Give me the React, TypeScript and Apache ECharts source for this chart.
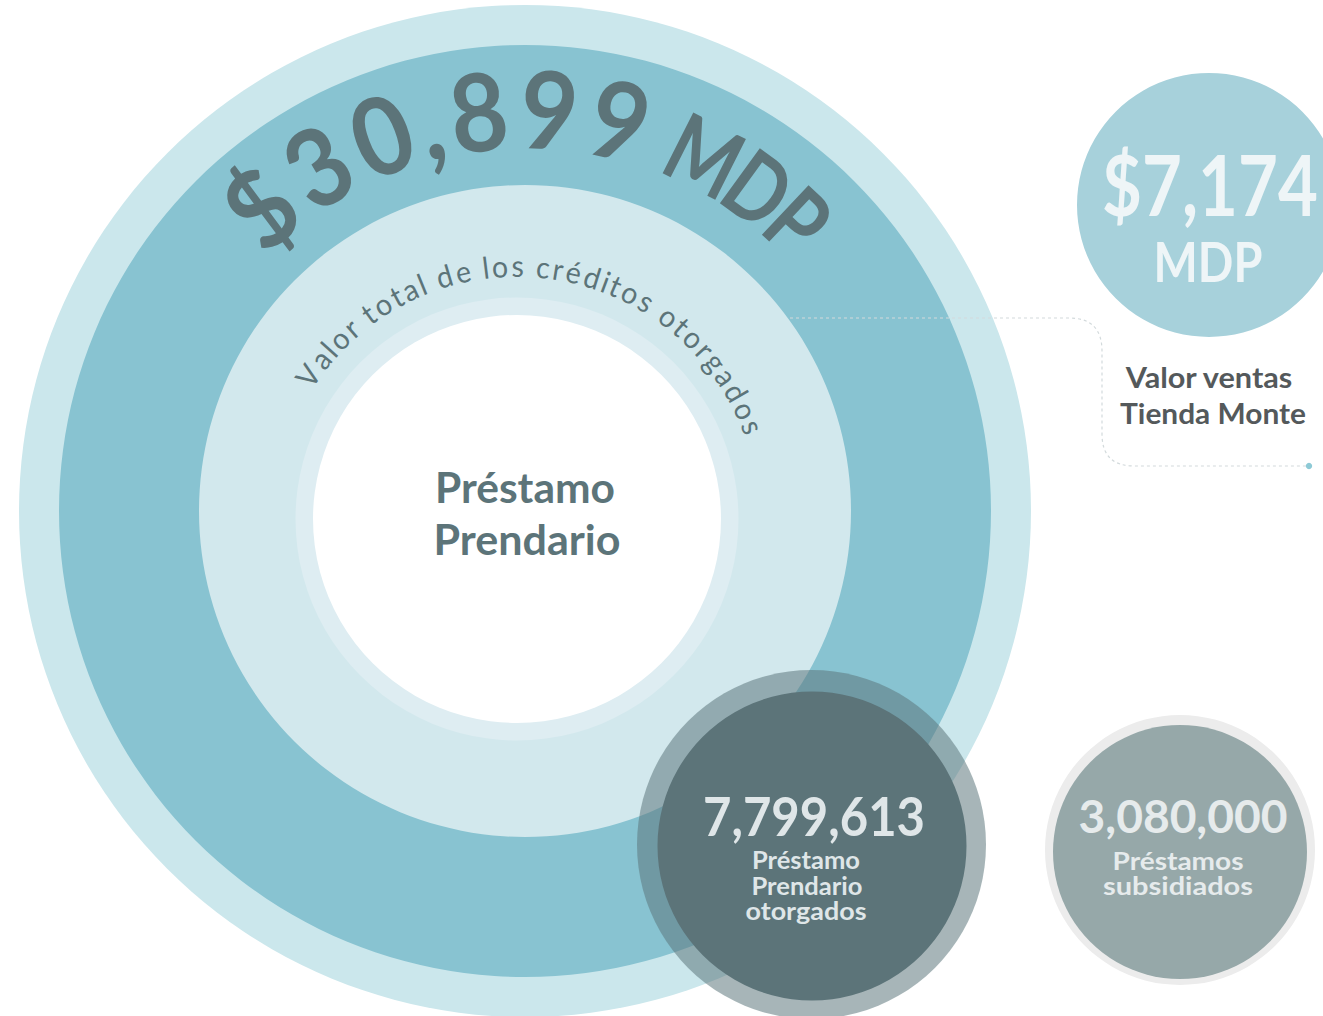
import React, { useEffect, useRef } from "react";
import * as echarts from "echarts";

// ---- data (texts / values) ----
const totalCreditValue = "$30,899";
const totalCreditUnit = "MDP";
const totalCreditLabel = "Valor total de los créditos otorgados";
const centerLabel = ["Préstamo", "Prendario"];
const storeSalesValue = ["$7,174", "MDP"];
const storeSalesLabel = ["Valor ventas", "Tienda Monte"];
const loansGrantedValue = "7,799,613";
const loansGrantedLabel = ["Préstamo", "Prendario", "otorgados"];
const subsidizedValue = "3,080,000";
const subsidizedLabel = ["Préstamos", "subsidiados"];

const FAMILY = "Lato, 'Noto Sans', sans-serif";
const DARK = "#5c7479";

let measureCtx: CanvasRenderingContext2D | null = null;
function measure(text: string, size: number, weight: string | number) {
  if (!measureCtx) measureCtx = document.createElement("canvas").getContext("2d");
  const ctx = measureCtx as CanvasRenderingContext2D;
  ctx.font = `${weight} ${size}px Lato`;
  return ctx.measureText(text).width;
}

function arcText(
  str: string,
  cx: number,
  cy: number,
  r: number,
  startDeg: number,
  endDeg: number,
  size: number,
  weight: string | number,
  color: string,
  glyphScale = 1,
  spaceEm = 0.25
) {
  const chars = Array.from(str);
  const widths = chars.map((c) =>
    c === " " ? size * spaceEm : measure(c, size, weight) * glyphScale
  );
  let acc = 0;
  const centers = widths.map((w) => {
    const c = acc + w / 2;
    acc += w;
    return c;
  });
  const first = centers[0];
  const last = centers[centers.length - 1];
  const els: any[] = [];
  chars.forEach((ch, i) => {
    if (ch === " ") return;
    const t = (centers[i] - first) / (last - first);
    const deg = startDeg + t * (endDeg - startDeg);
    const th = (deg * Math.PI) / 180;
    els.push({
      type: "text",
      x: cx + r * Math.sin(th),
      y: cy - r * Math.cos(th),
      rotation: -th,
      scaleX: glyphScale,
      z: 10,
      style: {
        text: ch,
        fontSize: size,
        fontWeight: weight,
        fontFamily: FAMILY,
        fill: color,
        align: "center",
        verticalAlign: "middle",
      },
    });
  });
  return els;
}

function fitText(
  text: string,
  x: number,
  y: number,
  size: number,
  weight: string | number,
  color: string,
  targetWidth: number,
  z = 20
) {
  const w = measure(text, size, weight);
  const sx = targetWidth / w;
  return {
    type: "text",
    x,
    y,
    scaleX: sx,
    z,
    style: {
      text,
      fontSize: size,
      fontWeight: weight,
      fontFamily: FAMILY,
      fill: color,
      align: "center",
      verticalAlign: "middle",
    },
  };
}

function circle(cx: number, cy: number, r: number, fill: string, z: number) {
  return { type: "circle", z, shape: { cx, cy, r }, style: { fill } };
}

const connectorPath =
  "M790 318 L1069 318 Q1102 318 1102 351 L1102 434 Q1102 466 1134 466 L1309 466";

export default function App() {
  const ref = useRef<HTMLDivElement>(null);
  useEffect(() => {
    if (!ref.current) return;
    try {
      echarts.graphic.registerShape(
        "connector",
        echarts.graphic.extendPath(connectorPath, {}) as any
      );
    } catch (e) {}
    const chart = echarts.init(ref.current, undefined, { renderer: "svg" });

    const elements: any[] = [
      // main concentric circles
      circle(525, 511, 506, "#cbe7ec", 1),
      circle(525, 511, 466, "#88c3d1", 2),
      circle(525, 511, 326, "#d2e8ed", 3),
      circle(517, 519, 221.5, "#deedf2", 4),
      circle(517, 519, 204, "#ffffff", 5),
      ...arcText(totalCreditValue, 525, 511, 404, -41.1, 13.6, 108, 700, DARK, 0.92),
      ...arcText(totalCreditUnit, 525, 511, 400, 26.8, 43.3, 94, 700, DARK, 0.8),
      ...arcText(totalCreditLabel, 517, 519, 254, -55.6, 68.6, 30, 400, DARK, 0.95, 0.25),
      fitText(centerLabel[0], 525, 487, 42, 700, DARK, 180),
      fitText(centerLabel[1], 527, 539, 42, 700, DARK, 187),
      // connector
      {
        type: "connector",
        z: 12,
        style: {
          fill: "none",
          stroke: "#d3dadc",
          lineWidth: 1.2,
          lineDash: [3, 3],
        },
      },
      circle(1309, 466, 3.2, "#8ecad6", 13),
      // store sales bubble
      circle(1209, 205, 132, "#a7d1db", 14),
      fitText(storeSalesValue[0], 1210, 183, 84, 700, "#eef5f7", 216),
      fitText(storeSalesValue[1], 1208, 260, 56, 700, "#eef5f7", 109),
      fitText(storeSalesLabel[0], 1209, 377, 29, 700, "#54595b", 168),
      fitText(storeSalesLabel[1], 1213, 413, 29, 700, "#54595b", 186),
      // loans granted bubble
      circle(811.5, 844.5, 174.5, "rgba(92,118,123,0.54)", 15),
      circle(812, 846, 154.5, "#5c7479", 16),
      fitText(loansGrantedValue, 814, 816, 53, 700, "#dfe6e8", 222),
      fitText(loansGrantedLabel[0], 806, 860, 24, 700, "#dfe6e8", 108),
      fitText(loansGrantedLabel[1], 807, 886, 24, 700, "#dfe6e8", 111),
      fitText(loansGrantedLabel[2], 806, 911, 24, 700, "#dfe6e8", 121),
      // subsidized bubble
      circle(1180, 850, 135, "#ececec", 15),
      circle(1180, 852, 127, "#96a8a9", 16),
      fitText(subsidizedValue, 1183, 816, 46, 700, "#e6ebec", 209),
      fitText(subsidizedLabel[0], 1178, 861, 24, 700, "#e6ebec", 131),
      fitText(subsidizedLabel[1], 1178, 886, 24, 700, "#e6ebec", 150),
    ];

    chart.setOption({
      animation: false,
      backgroundColor: "#ffffff",
      graphic: { elements },
    });
    return () => chart.dispose();
  }, []);
  return (
    <div
      ref={ref}
      style={{ position: "absolute", left: 0, top: 0, width: 1323, height: 1016 }}
    />
  );
}
